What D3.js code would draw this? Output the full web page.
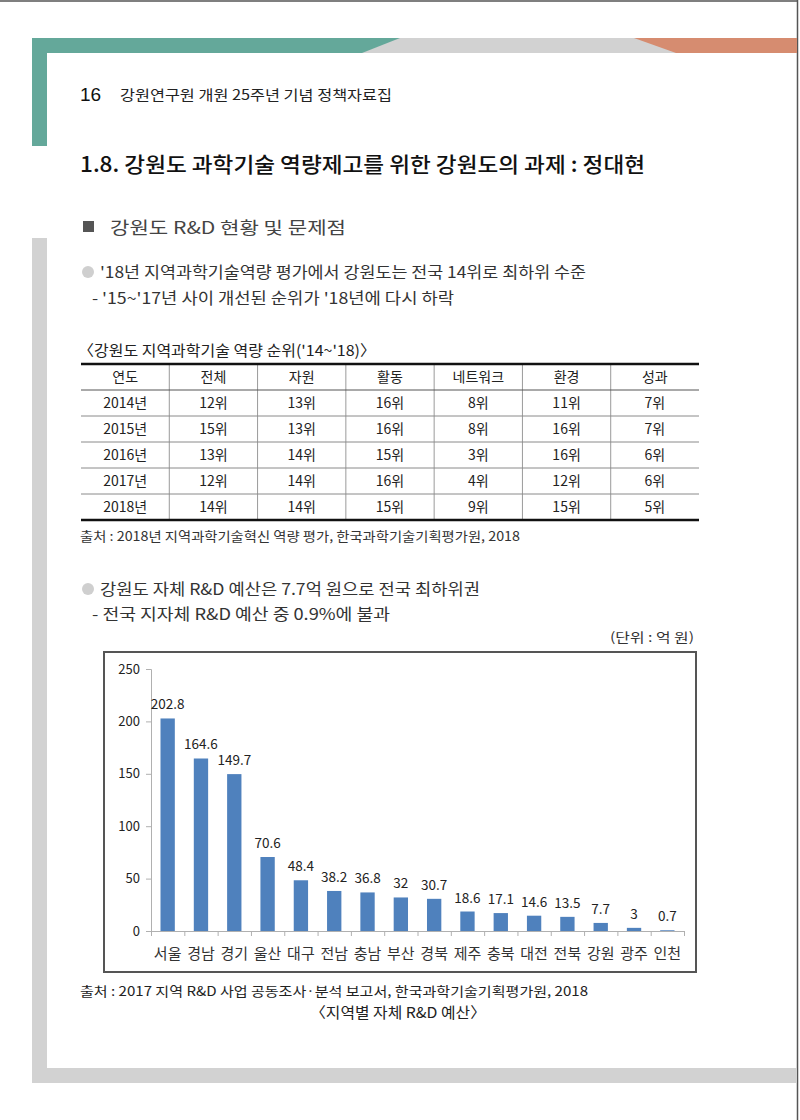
<!DOCTYPE html>
<html><head><meta charset="utf-8">
<script src="https://cdn.jsdelivr.net/npm/d3@7"></script>
<style>body{margin:0;background:#fff}svg{display:block}</style>
</head><body>
<svg id="page" width="800" height="1120"></svg>
<script>
// ---- data ----
const tableCaption = "〈강원도 지역과학기술 역량 순위('14~'18)〉";
const tableHeaders = ["연도","전체","자원","활동","네트워크","환경","성과"];
const tableYears = ["2014년","2015년","2016년","2017년","2018년"];
const rankTotal   = [12,15,13,12,14];
const rankResource= [13,13,14,14,14];
const rankActivity= [16,16,15,16,15];
const rankNetwork = [8,8,3,4,9];
const rankEnv     = [11,16,16,12,15];
const rankResult  = [7,7,6,6,5];

const regions = ["서울","경남","경기","울산","대구","전남","충남","부산","경북","제주","충북","대전","전북","강원","광주","인천"];
const budget  = [202.8,164.6,149.7,70.6,48.4,38.2,36.8,32,30.7,18.6,17.1,14.6,13.5,7.7,3,0.7];
const yTicks  = [0,50,100,150,200,250];

const KR = "'Noto Sans CJK KR','Noto Sans',sans-serif";
const svg = d3.select("#page");

// ---- page frame ----
svg.append("line").attr("x1",0).attr("x2",798).attr("y1",1).attr("y2",1).attr("stroke","#555").attr("stroke-width",1.5);
svg.append("line").attr("x1",797.5).attr("x2",797.5).attr("y1",0).attr("y2",1120).attr("stroke","#555").attr("stroke-width",1.5);
svg.append("rect").attr("x",32).attr("y",38).attr("width",765).attr("height",15).attr("fill","#d2d2d2");
svg.append("path").attr("d","M32,38 L400,38 L362,53 L32,53 Z").attr("fill","#64a89a");
svg.append("path").attr("d","M634,38 L797,38 L797,53 L676,53 Z").attr("fill","#d68c70");
svg.append("rect").attr("x",32).attr("y",38).attr("width",15).attr("height",108).attr("fill","#64a89a");
svg.append("rect").attr("x",32).attr("y",238).attr("width",15).attr("height",845).attr("fill","#d2d2d2");
svg.append("rect").attr("x",32).attr("y",1068).attr("width",765).attr("height",15).attr("fill","#d2d2d2");

function txt(x,y,s,size,opts={}){
  const t = svg.append("text").attr("x",x).attr("y",y).text(s)
    .attr("font-family",opts.family||KR).attr("font-size",size)
    .attr("fill",opts.fill||"#222").attr("text-anchor",opts.anchor||"start")
    .attr("font-weight",opts.weight||"normal");
  if(opts.len) t.attr("textLength",opts.len).attr("lengthAdjust","spacingAndGlyphs");
  return t;
}

// header
txt(80,101,"16",19,{family:"'Liberation Sans',Arial,sans-serif",fill:"#111"});
txt(120,100,"강원연구원 개원 25주년 기념 정책자료집",14,{fill:"#222",len:272});
txt(80,172,"1.8. 강원도 과학기술 역량제고를 위한 강원도의 과제 : 정대현",21,{fill:"#111",weight:500,len:565});

// section heading
svg.append("rect").attr("x",83).attr("y",221).attr("width",11).attr("height",11).attr("fill","#555");
txt(110,234,"강원도 R&D 현황 및 문제점",17,{fill:"#444",len:236});

// bullet 1
svg.append("circle").attr("cx",88).attr("cy",272).attr("r",6).attr("fill","#cfcfcf");
txt(100,278,"'18년 지역과학기술역량 평가에서 강원도는 전국 14위로 최하위 수준",15.5,{fill:"#333",len:486});
txt(92,304,"- '15~'17년 사이 개선된 순위가 '18년에 다시 하락",15.5,{fill:"#333",len:362});

// ---- table ----
txt(78,356,tableCaption,15,{fill:"#222",len:298});
const tx = d3.scaleBand().domain(tableHeaders).range([81,699]);
const rowsData = tableYears.map((y,i)=>[y,rankTotal[i]+"위",rankResource[i]+"위",rankActivity[i]+"위",rankNetwork[i]+"위",rankEnv[i]+"위",rankResult[i]+"위"]);
const ty = d3.scaleBand().domain(["head",...tableYears]).range([364,520]);
tableHeaders.slice(1).forEach(h=>{
  svg.append("line").attr("x1",tx(h)).attr("x2",tx(h)).attr("y1",364).attr("y2",520).attr("stroke","#9a9a9a").attr("stroke-width",1);
});
tableYears.forEach(y=>{
  svg.append("line").attr("x1",81).attr("x2",699).attr("y1",ty(y)).attr("y2",ty(y)).attr("stroke", y===tableYears[0]?"#555":"#8a8a8a").attr("stroke-width",1);
});
svg.append("line").attr("x1",81).attr("x2",699).attr("y1",364).attr("y2",364).attr("stroke","#111").attr("stroke-width",2.5);
svg.append("line").attr("x1",81).attr("x2",699).attr("y1",520).attr("y2",520).attr("stroke","#111").attr("stroke-width",2.5);
tableHeaders.forEach(h=>{
  txt(tx(h)+tx.bandwidth()/2, ty("head")+ty.bandwidth()/2+5, h, 14,{anchor:"middle",fill:"#222"});
});
rowsData.forEach((row,i)=>{
  row.forEach((c,j)=>{
    txt(tx(tableHeaders[j])+tx.bandwidth()/2, ty(tableYears[i])+ty.bandwidth()/2+5, c, 14,{anchor:"middle",fill:"#222"});
  });
});
txt(80,541,"출처 : 2018년 지역과학기술혁신 역량 평가, 한국과학기술기획평가원, 2018",13,{fill:"#333",len:440});

// bullet 2
svg.append("circle").attr("cx",88).attr("cy",589).attr("r",6).attr("fill","#cfcfcf");
txt(100,595,"강원도 자체 R&D 예산은 7.7억 원으로 전국 최하위권",15.5,{fill:"#333",len:380});
txt(92,620,"- 전국 지자체 R&D 예산 중 0.9%에 불과",15.5,{fill:"#333",len:298});
txt(694,642,"(단위 : 억 원)",13,{anchor:"end",fill:"#333",len:84});

// ---- chart ----
svg.append("rect").attr("x",104).attr("y",652).attr("width",592).attr("height",320)
  .attr("fill","#fff").attr("stroke","#555").attr("stroke-width",2);

const x = d3.scaleBand().domain(regions).range([151,684]).paddingInner(0.57).paddingOuter(0.285);
const y = d3.scaleLinear().domain([0,250]).range([931,669]);

const yAxis = svg.append("g").attr("transform","translate(151,0)")
  .call(d3.axisLeft(y).tickValues(yTicks).tickSize(5).tickPadding(6).tickFormat(d3.format("d")));
yAxis.select(".domain").attr("stroke","#b0b0b0");
yAxis.selectAll(".tick line").attr("stroke","#b0b0b0");
yAxis.selectAll(".tick text").attr("font-family",KR).attr("font-size",13).attr("fill","#222");

const xi = d3.scaleLinear().domain([0,regions.length]).range([151,684]);
const xAxis = svg.append("g").attr("transform","translate(0,931)")
  .call(d3.axisBottom(xi).tickValues(d3.range(regions.length+1)).tickSize(5).tickFormat(""));
xAxis.select(".domain").attr("stroke","#b0b0b0");
xAxis.selectAll(".tick line").attr("stroke","#b0b0b0");

svg.append("g").selectAll("rect").data(budget).join("rect")
  .attr("x",(d,i)=>x(regions[i])).attr("width",x.bandwidth())
  .attr("y",d=>y(d)).attr("height",d=>931-y(d)).attr("fill","#4f81bd");

svg.append("g").selectAll("text").data(budget).join("text")
  .attr("x",(d,i)=>x(regions[i])+x.bandwidth()/2).attr("y",d=>y(d)-9)
  .attr("text-anchor","middle").attr("font-family",KR).attr("font-size",13.5).attr("fill","#222")
  .text(d=>d);

svg.append("g").selectAll("text").data(regions).join("text")
  .attr("x",d=>x(d)+x.bandwidth()/2).attr("y",959)
  .attr("text-anchor","middle").attr("font-family",KR).attr("font-size",15).attr("fill","#333")
  .text(d=>d);

txt(80,996,"출처 : 2017 지역 R&D 사업 공동조사·분석 보고서, 한국과학기술기획평가원, 2018",13,{fill:"#222",len:508});
txt(398,1018,"〈지역별 자체 R&D 예산〉",15,{anchor:"middle",fill:"#222",len:176});
</script>
</body></html>
